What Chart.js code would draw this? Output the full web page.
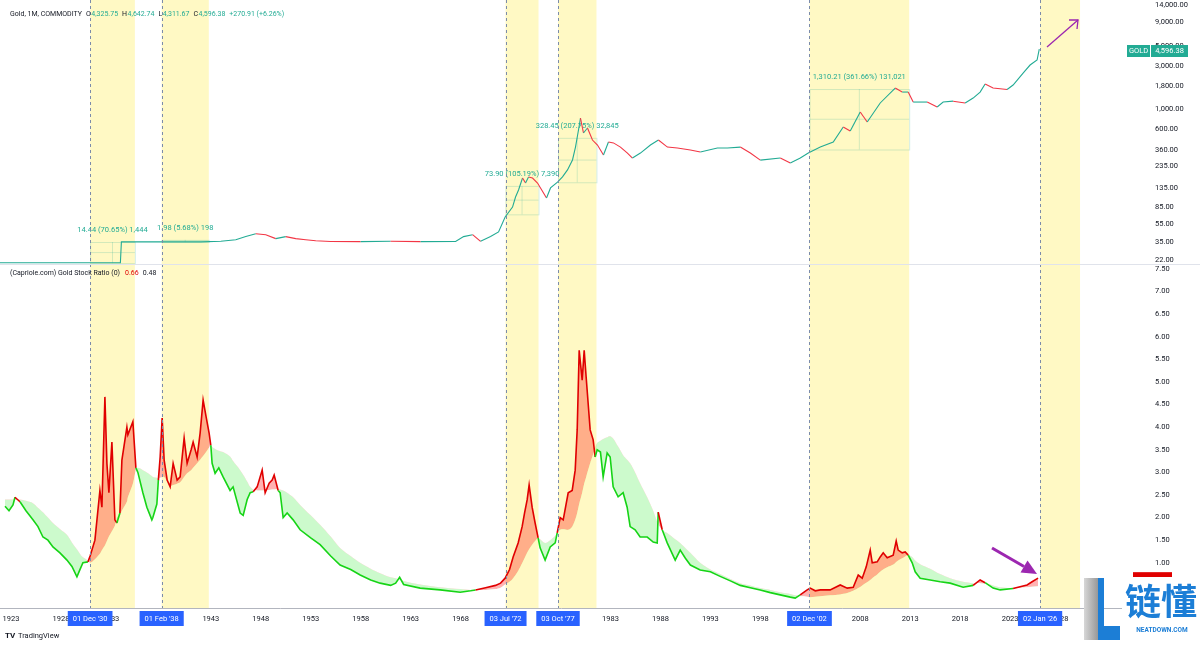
<!DOCTYPE html>
<html>
<head>
<meta charset="utf-8">
<script src="https://cdn.jsdelivr.net/npm/chart.js@4.4.1/dist/chart.umd.min.js"></script>
<style>
  html, body { margin: 0; padding: 0; background: #fff; }
  #wrap { position: relative; width: 1200px; height: 646px; overflow: hidden; }
  #top { position: absolute; left: 0; top: 0; }
  #bot { position: absolute; left: 0; top: 264px; }
</style>
</head>
<body>
<div id="wrap">
  <canvas id="top" width="1200" height="264"></canvas>
  <canvas id="bot" width="1200" height="382"></canvas>
</div>
<script>
// ===== 数据 =====
const PRICE_YEARS = [1921.9,1933.95,1934.05,1936,1938,1940,1942,1944,1945.5,1946.5,1947.5,1948.5,1949.5,1950.5,1951.5,1952.5,1953.5,1955,1958,1961,1964,1967.5,1968.3,1969.2,1970,1971,1971.8,
  1972.46,1973.2,1973.5,1973.8,1974.2,1974.5,1974.8,1975.2,1975.7,1976.0,1976.6,1977.0,1977.7,1978.2,1978.7,1979.2,1979.5,1979.8,1980.0,1980.3,1980.7,1981.2,1981.7,1982.3,1982.8,1983.3,1984.0,1984.7,1985.2,1986.0,1987.0,1987.8,1988.7,1989.7,1991.0,1992.0,1993.7,1994.7,1996.0,1997.0,1998.0,
  2000.0,2001.0,2002.0,2002.8,2004.0,2005.3,2006.3,2007.0,2008.0,2008.7,2010.0,2011.5,2012.2,2012.8,2013.3,2014.7,2015.7,2016.3,2017.3,2018.5,2019.3,2020.0,2020.5,2021.3,2022.7,2023.3,2024.3,2025.0,2025.7,2025.92];
const PRICE_VALUES = [20.67,20.67,35.0,35.0,35.0,35.0,35.0,35.5,37,40,43,42,38,40,38,37,36,35.3,35.2,35.5,35.2,35.3,40,42,35.5,40,45,
  65.6,84.5,109,130,176,155,181,176,155,137,106,137,159,181,216,278,385,593,803,550,624,460,406,315,438,428,385,331,292,331,406,460,385,376,357,340,376,376,385,331,277,
  292,257,292,331,385,438,640,578,935,726,1175,1715,1549,1549,1203,1203,1061,1203,1230,1175,1330,1549,1897,1715,1650,1850,2506,3070,3485,4596.38];

const RATIO_YEARS = [1922.4,1922.8,1923.2,1923.4,1923.9,1924.5,1925.2,1925.7,1926.2,1926.7,1927.2,1927.9,1928.6,1929.1,1929.6,1929.9,1930.2,1930.7,
  1930.92,1931.4,1931.9,1932.1,1932.4,1932.6,1932.8,1933.1,1933.4,1933.6,1933.9,1934.1,1934.6,1934.7,1935.2,1935.5,
  1935.7,1936.2,1936.6,1937.1,1937.2,1937.6,1937.75,1937.93,1938.13,1938.33,1938.63,1938.93,1939.23,1939.63,1939.93,1940.33,1940.63,1941.03,1941.23,1941.63,1941.93,1942.23,1942.53,1942.83,1943.0,
  1943.13,1943.43,1943.8,1944.23,1944.93,1945.23,1945.94,1946.24,1946.64,1946.94,1947.24,1947.64,1948.14,1948.44,1948.84,1949.14,1949.34,1949.74,
  1949.94,1950.24,1950.64,1951.24,1951.94,1953.0,1953.94,1955.0,1955.94,1957.0,1957.95,1959.0,1959.95,1961.0,1961.5,1961.9,1962.3,1963.95,1965.95,1967.96,1969.0,1969.5,1970.5,1971.5,1972.0,
  1972.46,1972.9,1973.26,1973.76,1974.16,1974.4,1974.66,1974.86,1975.16,1975.46,1975.76,1975.96,1976.46,1976.97,1977.47,1977.67,
  1977.97,1978.27,1978.77,1979.17,1979.47,1979.67,1979.87,1980.17,1980.37,1980.57,1980.97,1981.27,1981.47,
  1981.67,1982.0,1982.27,1982.67,1982.97,1983.27,1983.77,1984.27,1984.67,1984.97,1985.47,1985.97,1986.68,1987.28,1987.68,1987.78,1988.18,1988.68,1989.48,1989.98,1990.5,1991.0,1991.98,1993.0,1993.98,1995.0,1995.99,1997.0,1997.99,1999.0,1999.99,2001.0,2001.49,
  2001.99,2002.69,2002.99,2003.5,2004.0,2004.99,2006.0,2006.7,2007.3,2007.8,2008.2,2008.6,2009.0,2009.2,2009.7,2010.0,2010.3,2010.7,2011.3,2011.6,2011.8,2012.2,2012.5,2012.8,
  2013.2,2013.5,2014.0,2015.0,2016.0,2017.0,2018.3,2019.3,2020.0,2020.5,2021.3,2022.0,2023.3,2024.0,2024.7,2025.2,2025.8];
const RATIO_VALUES = [2.25,2.15,2.28,2.45,2.35,2.15,1.95,1.80,1.57,1.50,1.35,1.22,1.06,0.92,0.69,0.85,1.00,1.02,
  1.15,1.50,2.60,2.23,4.67,3.20,2.55,3.67,1.95,1.88,2.10,3.27,4.00,3.83,4.12,3.10,
  3.00,2.55,2.23,1.95,2.00,2.30,2.83,3.34,4.20,3.27,2.83,2.68,3.20,2.83,2.90,3.76,3.20,3.50,3.67,3.34,3.87,4.60,4.23,3.87,3.60,
  3.20,2.98,3.10,2.90,2.60,2.68,2.10,2.05,2.40,2.55,2.57,2.68,3.05,2.55,2.76,2.83,2.94,2.60,
  2.55,2.00,2.10,1.95,1.73,1.55,1.40,1.15,0.95,0.85,0.73,0.62,0.55,0.50,0.55,0.68,0.52,0.44,0.40,0.35,0.38,0.40,0.45,0.50,0.55,
  0.66,0.85,1.13,1.44,1.80,2.10,2.39,2.72,2.23,1.88,1.55,1.33,1.06,1.35,1.44,1.66,
  2.00,1.95,2.55,2.60,3.05,3.94,5.70,5.04,5.70,5.10,3.94,3.72,3.34,
  3.50,3.45,2.90,3.43,3.34,2.68,2.46,2.55,2.23,1.80,1.73,1.57,1.57,1.46,1.44,2.12,1.73,1.44,1.06,1.28,1.10,0.95,0.84,0.80,0.70,0.60,0.50,0.45,0.40,0.34,0.29,0.24,0.22,
  0.29,0.40,0.44,0.38,0.40,0.40,0.51,0.44,0.46,0.73,0.66,0.91,1.28,1.00,1.02,1.13,1.22,1.11,1.17,1.48,1.28,1.22,1.24,1.17,
  1.00,0.80,0.66,0.62,0.58,0.55,0.46,0.50,0.62,0.56,0.44,0.40,0.43,0.47,0.51,0.58,0.66];
const RATIO_AVG = [2.40,2.40,2.40,2.40,2.40,2.37,2.32,2.22,2.12,2.00,1.88,1.75,1.62,1.45,1.30,1.20,1.12,1.05,
  1.00,1.08,1.20,1.28,1.38,1.48,1.58,1.70,1.82,2.00,2.05,2.15,2.35,2.45,2.75,3.05,
  3.10,3.05,3.00,2.92,2.90,2.88,2.87,2.88,2.90,2.90,2.80,2.70,2.72,2.75,2.78,2.90,2.98,3.05,3.10,3.20,3.28,3.36,3.45,3.55,3.60,
  3.56,3.52,3.48,3.45,3.35,3.25,3.05,2.95,2.80,2.68,2.62,2.60,2.60,2.60,2.61,2.62,2.62,2.63,
  2.62,2.60,2.55,2.45,2.28,2.05,1.84,1.58,1.33,1.15,1.00,0.87,0.77,0.68,0.66,0.63,0.60,0.52,0.46,0.42,0.40,0.40,0.40,0.42,0.45,
  0.52,0.58,0.66,0.82,0.99,1.10,1.22,1.30,1.40,1.48,1.55,1.52,1.44,1.50,1.60,1.66,
  1.73,1.74,1.73,1.80,1.95,2.10,2.30,2.55,2.75,2.90,3.20,3.40,3.55,
  3.65,3.70,3.74,3.78,3.80,3.75,3.57,3.38,3.28,3.20,3.00,2.76,2.45,2.15,1.90,1.85,1.72,1.66,1.52,1.44,1.33,1.22,1.00,0.85,0.75,0.64,0.55,0.50,0.44,0.40,0.35,0.31,0.28,
  0.26,0.25,0.24,0.25,0.26,0.28,0.30,0.33,0.38,0.44,0.50,0.56,0.62,0.66,0.74,0.80,0.85,0.90,0.96,1.02,1.05,1.10,1.14,1.17,
  1.13,1.05,0.97,0.87,0.75,0.66,0.58,0.55,0.55,0.54,0.50,0.46,0.44,0.45,0.46,0.47,0.48];

const PRICE_TICKS = [14000, 9000, 5000, 3000, 1800, 1000, 600, 360, 235, 135, 85, 55, 35, 22];
const RATIO_TICKS = [1.0, 1.5, 2.0, 2.5, 3.0, 3.5, 4.0, 4.5, 5.0, 5.5, 6.0, 6.5, 7.0, 7.5];
const YEAR_TICKS = [1923,1928,1933,1938,1943,1948,1953,1958,1963,1968,1973,1978,1983,1988,1993,1998,2003,2008,2013,2018,2023,2028];

// 竖线日期 + 黄色区间
const EVENT_DATES = [1930.92, 1938.08, 1972.5, 1977.75, 2002.92, 2026.0];
const EVENT_LABELS = ["01 Dec '30", "01 Feb '38", "03 Jul '72", "03 Oct '77", "02 Dec '02", "02 Jan '26"];
const BAND_ENDS = [1935.4, 1942.8, 1975.8, 1981.6, 2012.9, 2030.0];

// 价格区间测量
const RANGE_FROM_YEAR = [1930.92, 1938.08, 1972.5, 1977.75, 2002.92];
const RANGE_TO_YEAR = [1935.4, 1942.8, 1975.8, 1981.6, 2012.9];
const RANGE_FROM_PRICE = [20.44, 34.86, 70.25, 158.1, 362.28];
const RANGE_TO_PRICE = [34.88, 36.84, 144.15, 486.55, 1672.49];
const RANGE_TEXT = ["14.44 (70.65%) 1,444", "1.98 (5.68%) 198", "73.90 (105.19%) 7,390", "328.45 (207.75%) 32,845", "1,310.21 (361.66%) 131,021"];

const OHLC_TEXT = ["4,325.75", "4,642.74", "4,311.67", "4,596.38", "+270.91 (+6.26%)"];
const LAST_CLOSE = 4596.38, LAST_RATIO = 0.66, LAST_AVG = 0.48;

// ===== 样式 =====
const FONT = 'Roboto, "Liberation Sans", sans-serif';
const TXT = "#131722";
const UP = "#22ab94", DOWN = "#f23645";
const RED = "#e00000", GREEN = "#16d416";
const X_MIN = 1921.9, X_MAX = 2034.2;

function fmt2(v){ return v.toLocaleString("en-US",{minimumFractionDigits:2, maximumFractionDigits:2}); }

// 依次排列一行文字：[文字, 颜色, 前间距]
function drawRow(ctx, x, y, parts){
  for(const [s, c, gap] of parts){
    x += gap;
    ctx.fillStyle = c; ctx.fillText(s, x, y);
    x += ctx.measureText(s).width;
  }
}

// ===== 黄色区间 + 虚线 =====
const bandPlugin = {
  id: "bands",
  beforeDatasetsDraw(chart){
    const {ctx, chartArea:a, scales:{x}} = chart;
    ctx.save();
    ctx.fillStyle = "#fff9c4";
    EVENT_DATES.forEach((d,i)=>{
      const x0 = x.getPixelForValue(d), x1 = x.getPixelForValue(BAND_ENDS[i]);
      ctx.fillRect(x0, a.top, x1-x0, a.bottom-a.top);
    });
    ctx.restore();
  },
  afterDatasetsDraw(chart){
    const {ctx, chartArea:a, scales:{x}} = chart;
    ctx.save();
    ctx.strokeStyle = "#7b8bab"; ctx.lineWidth = 1; ctx.setLineDash([3,3]);
    EVENT_DATES.forEach(d=>{
      const px = Math.round(x.getPixelForValue(d))+0.5;
      ctx.beginPath(); ctx.moveTo(px, a.top); ctx.lineTo(px, a.bottom); ctx.stroke();
    });
    ctx.restore();
  }
};

// ===== 上图叠加 =====
const topOverlay = {
  id: "topOverlay",
  beforeDatasetsDraw(chart){
    const {ctx, scales:{x,y}} = chart;
    ctx.save();
    RANGE_TEXT.forEach((t,i)=>{
      const x0 = x.getPixelForValue(RANGE_FROM_YEAR[i]), x1 = x.getPixelForValue(RANGE_TO_YEAR[i]);
      const y0 = y.getPixelForValue(RANGE_FROM_PRICE[i]), y1 = y.getPixelForValue(RANGE_TO_PRICE[i]);
      ctx.strokeStyle = "rgba(34,171,148,0.2)"; ctx.lineWidth = 1;
      ctx.strokeRect(x0+0.5, y1+0.5, x1-x0, y0-y1);
      ctx.beginPath();
      ctx.moveTo((x0+x1)/2, y1); ctx.lineTo((x0+x1)/2, y0);
      ctx.moveTo(x0, (y0+y1)/2); ctx.lineTo(x1, (y0+y1)/2);
      ctx.stroke();
      ctx.fillStyle = UP; ctx.font = `7.5px ${FONT}`;
      ctx.textAlign = "center"; ctx.textBaseline = "middle";
      ctx.fillText(t, (x0+x1)/2, y1-12);
    });
    ctx.restore();
  },
  afterDraw(chart){
    const {ctx, scales:{y}} = chart;
    ctx.save();
    // 标题
    ctx.font = `7px ${FONT}`; ctx.textBaseline = "middle"; ctx.textAlign = "left";
    drawRow(ctx, 10, 14, [["Gold, 1M, COMMODITY",TXT,0],["O",TXT,4],[OHLC_TEXT[0],UP,0.5],["H",TXT,4],[OHLC_TEXT[1],UP,0.5],
      ["L",TXT,4],[OHLC_TEXT[2],UP,0.5],["C",TXT,4],[OHLC_TEXT[3],UP,0.5],[OHLC_TEXT[4],UP,4]]);
    // 价格标签
    const py = Math.round(y.getPixelForValue(LAST_CLOSE))+2;
    ctx.fillStyle = UP;
    ctx.fillRect(1127, py-6, 23, 12);
    ctx.fillRect(1151, py-6, 37, 12);
    ctx.fillStyle = "#fff"; ctx.font = `7.5px ${FONT}`;
    ctx.textAlign = "center";
    ctx.fillText("GOLD", 1138.5, py);
    ctx.fillText(fmt2(LAST_CLOSE), 1169.5, py);
    // 紫色箭头
    ctx.strokeStyle = "#9c27b0"; ctx.lineWidth = 1.3;
    ctx.beginPath(); ctx.moveTo(1047,47); ctx.lineTo(1078,20); ctx.stroke();
    ctx.beginPath(); ctx.moveTo(1069,20); ctx.lineTo(1078,20); ctx.lineTo(1077,29); ctx.stroke();
    ctx.restore();
  }
};

// ===== 下图叠加 =====
const botOverlay = {
  id: "botOverlay",
  afterDraw(chart){
    const {ctx, scales:{x,y}} = chart;
    ctx.save();
    // 分隔线
    ctx.strokeStyle = "#e0e3eb"; ctx.lineWidth = 1;
    ctx.beginPath(); ctx.moveTo(0,0.5); ctx.lineTo(1200,0.5); ctx.stroke();
    // 指标图例
    ctx.font = `7px ${FONT}`; ctx.textBaseline = "middle"; ctx.textAlign = "left";
    drawRow(ctx, 10, 9, [["(Capriole.com) Gold Stock Ratio (0)",TXT,0],[LAST_RATIO.toFixed(2),RED,5],[LAST_AVG.toFixed(2),TXT,4]]);
    // 日期标签
    ctx.font = `7.5px ${FONT}`;
    ctx.textAlign = "center";
    EVENT_DATES.forEach((d,i)=>{
      const px = x.getPixelForValue(d);
      const w = ctx.measureText(EVENT_LABELS[i]).width + 10;
      ctx.fillStyle = "#2962ff";
      ctx.fillRect(px-w/2, 347, w, 15);
      ctx.fillStyle = "#fff";
      ctx.fillText(EVENT_LABELS[i], px, 355);
    });
    // 当前值标签
    const ry = y.getPixelForValue(LAST_RATIO);
    ctx.fillStyle = RED; ctx.fillRect(1133, ry-6, 39, 12);
    // 紫色粗箭头
    ctx.fillStyle = "#9c27b0"; ctx.strokeStyle = "#9c27b0";
    const ax0 = 992, ay0 = 284, ax1 = 1037, ay1 = 310;
    const ang = Math.atan2(ay1-ay0, ax1-ax0);
    const hl = 15, hw = 7;
    const bx = ax1 - hl*Math.cos(ang), by = ay1 - hl*Math.sin(ang);
    ctx.lineWidth = 3;
    ctx.beginPath(); ctx.moveTo(ax0,ay0); ctx.lineTo(bx,by); ctx.stroke();
    ctx.beginPath();
    ctx.moveTo(ax1,ay1);
    ctx.lineTo(bx + hw*Math.sin(ang), by - hw*Math.cos(ang));
    ctx.lineTo(bx - hw*Math.sin(ang), by + hw*Math.cos(ang));
    ctx.closePath(); ctx.fill();
    // TradingView
    ctx.fillStyle = TXT; ctx.textAlign = "left";
    ctx.font = `bold 8px ${FONT}`; ctx.fillText("TV", 5, 372);
    ctx.font = `7.5px ${FONT}`; ctx.fillText("TradingView", 18, 372);
    // 链懂 logo
    ctx.fillStyle = "#fff"; ctx.fillRect(1122, 313, 78, 69);
    const g = ctx.createLinearGradient(1084, 0, 1104, 0);
    g.addColorStop(0, "#d7d7d7"); g.addColorStop(1, "#7d7d7d");
    ctx.fillStyle = g;
    ctx.beginPath(); ctx.moveTo(1084,314); ctx.lineTo(1098,314); ctx.lineTo(1098,376); ctx.lineTo(1084,376); ctx.closePath(); ctx.fill();
    ctx.fillStyle = "#1c7ed6";
    ctx.fillRect(1098, 314, 6, 62);
    ctx.fillRect(1104, 362, 16, 14);
    ctx.font = `bold 36px "Noto Sans CJK SC", sans-serif`;
    ctx.textAlign = "center"; ctx.textBaseline = "middle";
    ctx.fillText("链懂", 1161, 337);
    ctx.font = `bold 6.5px ${FONT}`;
    ctx.fillText("NEATDOWN.COM", 1162, 366);
    ctx.restore();
  }
};

// ===== 上图：金价（对数） =====
new Chart(document.getElementById("top"), {
  type: "line",
  data: { datasets: [{
    data: PRICE_YEARS.map((x,i)=>({x, y: PRICE_VALUES[i]})),
    borderColor: UP, borderWidth: 1.1, pointRadius: 0, tension: 0,
    segment: { borderColor: c => c.p1.parsed.y >= c.p0.parsed.y ? UP : DOWN }
  }]},
  options: {
    responsive: false, animation: false, events: [],
    layout: { padding: 0 },
    plugins: { legend: {display:false}, tooltip: {enabled:false} },
    scales: {
      x: { type: "linear", min: X_MIN, max: X_MAX, display: false },
      y: { type: "logarithmic", position: "right", min: 20, max: 15900,
        afterBuildTicks: s => { s.ticks = PRICE_TICKS.map(v=>({value:v})); },
        afterFit: s => { s.width = 78; s.paddingTop = 0; s.paddingBottom = 0; },
        grid: {display:false, drawTicks:false}, border: {display:false},
        ticks: { autoSkip:false, padding: 33, color: TXT, font: {family: FONT, size: 7.5}, callback: v => fmt2(v) }
      }
    }
  },
  plugins: [bandPlugin, topOverlay]
});

// ===== 下图：Gold Stock Ratio =====
const ratioPts = RATIO_YEARS.map((x,i)=>({x, y: RATIO_VALUES[i]}));
const avgPts = RATIO_YEARS.map((x,i)=>({x, y: RATIO_AVG[i]}));
new Chart(document.getElementById("bot"), {
  type: "line",
  data: { datasets: [
    { data: ratioPts, borderWidth: 1.6, pointRadius: 0, tension: 0, borderColor: GREEN,
      fill: { target: 1, above: "rgba(255,0,0,0.3)", below: "rgba(0,230,0,0.2)" },
      segment: { borderColor: c => {
        const i = c.p0DataIndex, j = c.p1DataIndex;
        return (RATIO_VALUES[i]+RATIO_VALUES[j]) > (RATIO_AVG[i]+RATIO_AVG[j]) ? RED : GREEN;
      } } },
    { data: avgPts, borderWidth: 0, pointRadius: 0, tension: 0.3, borderColor: "rgba(0,0,0,0)", fill: false }
  ]},
  options: {
    responsive: false, animation: false, events: [],
    layout: { padding: 0 },
    plugins: { legend: {display:false}, tooltip: {enabled:false} },
    scales: {
      x: { type: "linear", min: X_MIN, max: X_MAX, position: "bottom",
        afterBuildTicks: s => { s.ticks = YEAR_TICKS.map(v=>({value:v})); },
        afterFit: s => { s.height = 38; s.paddingLeft = 0; s.paddingRight = 0; },
        grid: {display:false, drawTicks:false}, border: {display:true, color:"#b2b5be"},
        ticks: { autoSkip:false, maxRotation:0, padding: 7, color: TXT, font: {family: FONT, size: 7.5}, callback: v => String(v) }
      },
      y: { type: "linear", position: "right", min: 0, max: 7.61,
        afterBuildTicks: s => { s.ticks = RATIO_TICKS.map(v=>({value:v})); },
        afterFit: s => { s.width = 78; s.paddingTop = 0; s.paddingBottom = 0; },
        grid: {display:false, drawTicks:false}, border: {display:false},
        ticks: { autoSkip:false, padding: 33, color: TXT, font: {family: FONT, size: 7.5}, callback: v => v.toFixed(2) }
      }
    }
  },
  plugins: [bandPlugin, botOverlay]
});
</script>
</body>
</html>
